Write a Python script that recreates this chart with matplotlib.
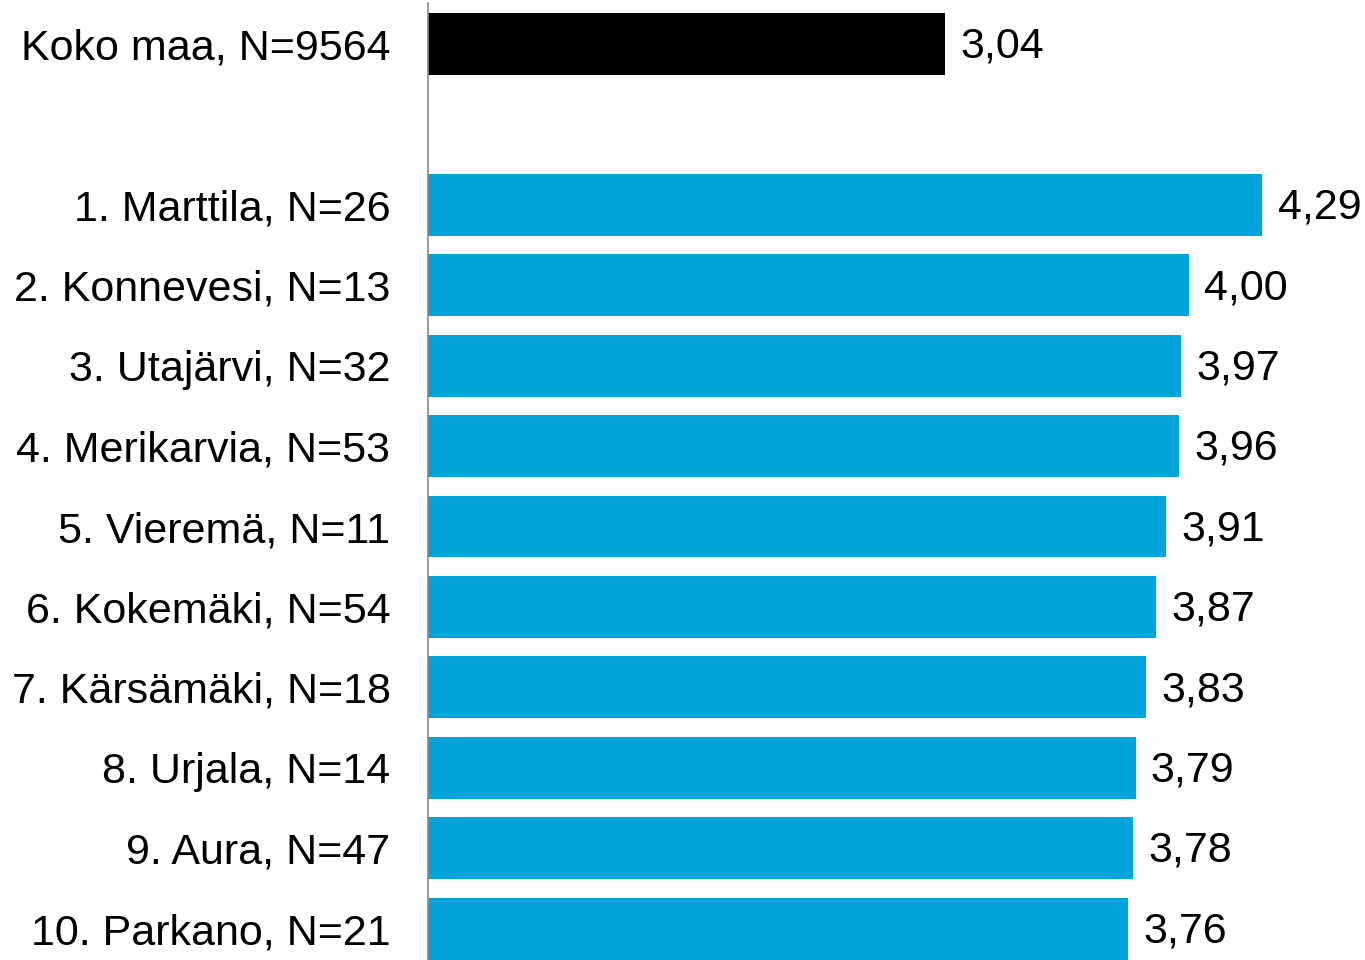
import matplotlib
matplotlib.use('Agg')
from matplotlib import pyplot as plt

plt.rcParams['font.family'] = ['Liberation Sans', 'DejaVu Sans']

labels = ['Koko maa, N=9564', '1. Marttila, N=26', '2. Konnevesi, N=13', '3. Utajärvi, N=32',
          '4. Merikarvia, N=53', '5. Vieremä, N=11', '6. Kokemäki, N=54', '7. Kärsämäki, N=18',
          '8. Urjala, N=14', '9. Aura, N=47', '10. Parkano, N=21']
values = [3.04, 4.29, 4.00, 3.97, 3.96, 3.91, 3.87, 3.83, 3.79, 3.78, 3.76]
positions = [0, 2, 3, 4, 5, 6, 7, 8, 9, 10, 11]
colors = ['#000000'] + ['#00A3DA'] * 10

W, H = 1365, 960
fig = plt.figure(figsize=(13.65, 9.6), dpi=100)
ax = fig.add_axes([428 / W, 0, (W - 428) / W, (960 - 3) / H])

ax.barh(positions, values, left=0, height=0.77, color=colors, zorder=2)
ax.set_xlim(1, 1 + (W - 428) / 253.6)
ax.set_ylim(11.39, -0.51)

for p, v in zip(positions, values):
    ax.annotate(('%.2f' % v).replace('.', ','), xy=(v, p), xytext=(11, -2),
                textcoords='offset points', va='center', ha='left', fontsize=31,
                annotation_clip=False)

ax.set_yticks(positions)
ax.set_yticklabels(labels, fontsize=31)
ax.tick_params(axis='y', length=0, pad=27)
ax.set_xticks([])
for s in ['top', 'right', 'bottom']:
    ax.spines[s].set_visible(False)
ax.spines['left'].set_color('#888888')
ax.spines['left'].set_linewidth(1.2)

fig.savefig('out.png', dpi=100)
